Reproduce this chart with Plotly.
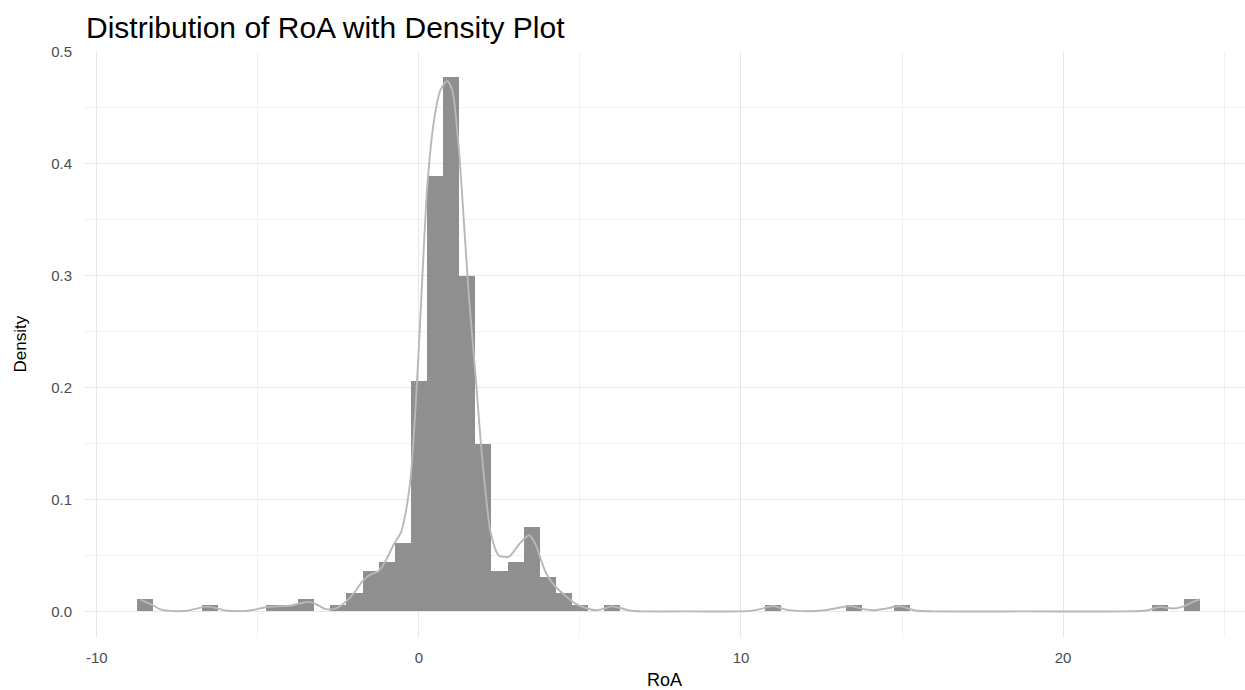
import plotly.graph_objects as go

# Histogram bins (centre of each 0.5-wide bin) and their densities
bin_centers = [-8.5, -6.5, -4.5, -4.0, -3.5, -2.5, -2.0, -1.5, -1.0, -0.5,
               0.0, 0.5, 1.0, 1.5, 2.0, 2.5, 3.0, 3.5, 4.0, 4.5,
               5.0, 6.0, 11.0, 13.5, 15.0, 23.0, 24.0]
bin_density = [0.0111, 0.0056, 0.0056, 0.0056, 0.0111, 0.0056, 0.0167, 0.0361, 0.0444, 0.0611,
               0.2056, 0.3889, 0.4778, 0.3000, 0.1500, 0.0361, 0.0444, 0.0750, 0.0306, 0.0167,
               0.0056, 0.0056, 0.0056, 0.0056, 0.0056, 0.0056, 0.0111]
bin_width = 0.5

# Density curve
curve_x = [-8.65, -8.3, -8.0, -7.6, -7.2, -6.9, -6.6, -6.3, -6.0, -5.6, -5.2, -4.8, -4.4,
           -4.0, -3.7, -3.45, -3.2, -2.9, -2.6, -2.3, -2.0, -1.75, -1.5, -1.25, -1.0,
           -0.78, -0.55, -0.4, -0.26, -0.1, 0.05, 0.26, 0.47, 0.67, 0.88, 1.04, 1.24,
           1.40, 1.55, 1.76, 1.97, 2.23, 2.48, 2.8, 3.11, 3.42, 3.62, 3.8, 3.95, 4.24,
           4.55, 4.85, 5.18, 5.5, 5.8, 6.0, 6.25, 6.6, 7.0, 8.5, 10.2, 10.6, 11.0, 11.4,
           11.9, 12.6, 13.0, 13.4, 13.8, 14.1, 14.5, 14.95, 15.4, 16.0, 19.0, 22.0, 22.6,
           23.0, 23.4, 23.7, 24.0, 24.25]
curve_y = [0.0105, 0.006, 0.0015, 0.0002, 0.0005, 0.0025, 0.0042, 0.003, 0.0008, 0.0002,
           0.001, 0.0035, 0.0045, 0.005, 0.007, 0.0085, 0.0065, 0.002, 0.0025, 0.008,
           0.017, 0.027, 0.033, 0.036, 0.047, 0.060, 0.071, 0.090, 0.119, 0.184, 0.266,
           0.380, 0.439, 0.466, 0.474, 0.465, 0.413, 0.347, 0.282, 0.210, 0.135, 0.070,
           0.050, 0.049, 0.060, 0.068, 0.060, 0.045, 0.034, 0.022, 0.014, 0.007, 0.003,
           0.001, 0.003, 0.0045, 0.003, 0.0005, 0.0, 0.0, 0.0002, 0.002, 0.0048, 0.0015,
           0.0002, 0.001, 0.003, 0.0048, 0.002, 0.001, 0.0025, 0.0045, 0.0008, 0.0,
           0.0, 0.0, 0.0008, 0.004, 0.0025, 0.004, 0.008, 0.011]

x_tickvals = [-10, 0, 10, 20]
x_ticktext = ["-10", "0", "10", "20"]
y_tickvals = [0.0, 0.1, 0.2, 0.3, 0.4, 0.5]
y_ticktext = ["0.0", "0.1", "0.2", "0.3", "0.4", "0.5"]

FONT = "Liberation Sans, Arial, sans-serif"

fig = go.Figure()
fig.add_trace(go.Bar(
    x=bin_centers, y=bin_density, width=bin_width,
    marker=dict(color="rgb(143,143,143)", line=dict(width=0)),
    hoverinfo="x+y", showlegend=False,
))
fig.add_trace(go.Scatter(
    x=curve_x, y=curve_y, mode="lines",
    line=dict(color="rgb(184,184,184)", width=1.9, shape="spline", smoothing=0.7),
    showlegend=False,
))

grid_major = "#e8e8e8"
grid_minor = "#f2f2f2"

fig.update_layout(
    width=1245, height=690,
    margin=dict(l=84, r=0, t=51, b=52),
    paper_bgcolor="white", plot_bgcolor="white",
    bargap=0,
    font=dict(family=FONT, color="#4d4d4d", size=15),
    title=dict(text="Distribution of RoA with Density Plot",
               x=86 / 1245, xref="container", xanchor="left",
               y=1 - 27 / 690, yref="container", yanchor="middle",
               font=dict(family=FONT, size=30, color="black")),
    xaxis=dict(range=[-10.4, 25.65], tickvals=x_tickvals, ticktext=x_ticktext,
               showgrid=True, gridcolor=grid_major, gridwidth=1.3,
               zeroline=False, showline=False,
               ticks="outside", ticklen=6, tickcolor="rgba(0,0,0,0)",
               tickfont=dict(size=15, color="#4d4d4d"),
               minor=dict(dtick=5, tick0=0, showgrid=True, gridcolor=grid_minor, gridwidth=0.9)),
    yaxis=dict(range=[-0.0238, 0.5008], tickvals=y_tickvals, ticktext=y_ticktext,
               showgrid=True, gridcolor=grid_major, gridwidth=1.3,
               zeroline=False, showline=False,
               ticks="outside", ticklen=8, tickcolor="rgba(0,0,0,0)",
               tickfont=dict(size=15, color="#4d4d4d"),
               minor=dict(dtick=0.05, tick0=0, showgrid=True, gridcolor=grid_minor, gridwidth=0.9)),
    annotations=[
        dict(text="Density", xref="paper", yref="paper", x=0, y=0.5,
             xanchor="center", yanchor="middle", xshift=-64, textangle=-90,
             showarrow=False, font=dict(family=FONT, size=17, color="black")),
        dict(text="RoA", xref="paper", yref="paper", x=0.5, y=0,
             xanchor="center", yanchor="middle", yshift=-42,
             showarrow=False, font=dict(family=FONT, size=18, color="black")),
    ],
)

fig.write_html("out.html")
